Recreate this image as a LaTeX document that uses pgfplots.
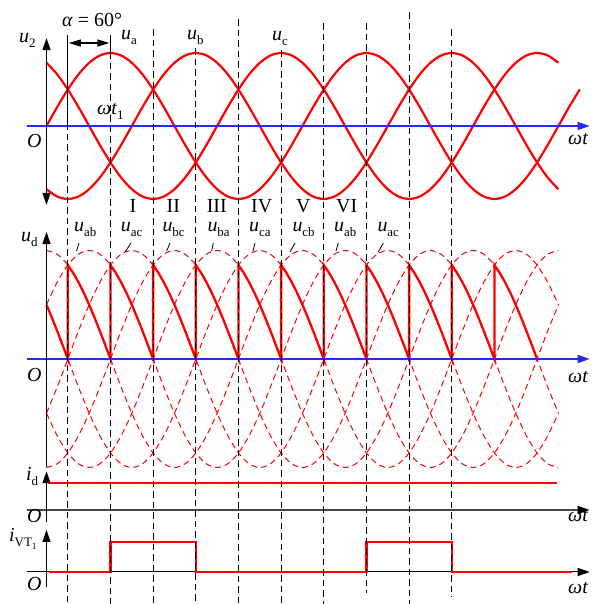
\documentclass[border=0pt]{standalone}
\usepackage{fontspec}
\setmainfont{Liberation Serif}
\usepackage{pgfplots}
\usepackage{pgfplotstable}
\pgfplotsset{compat=1.18}
\usetikzlibrary{arrows.meta}

\definecolor{wred}{RGB}{255,0,0}
\definecolor{wblue}{RGB}{40,40,255}
\definecolor{axgray}{RGB}{70,70,70}

% phase voltages (amplitude 1) and line voltages (amplitude 1), every 15 degrees
\pgfplotstableread{
t ua ub uc uab uac ubc uba uca ucb
0 0 -0.866 0.866 0.5 -0.5 -1 -0.5 0.5 1
15 0.259 -0.966 0.707 0.707 -0.259 -0.966 -0.707 0.259 0.966
30 0.5 -1 0.5 0.866 0 -0.866 -0.866 0 0.866
45 0.707 -0.966 0.259 0.966 0.259 -0.707 -0.966 -0.259 0.707
60 0.866 -0.866 0 1 0.5 -0.5 -1 -0.5 0.5
75 0.966 -0.707 -0.259 0.966 0.707 -0.259 -0.966 -0.707 0.259
90 1 -0.5 -0.5 0.866 0.866 0 -0.866 -0.866 0
105 0.966 -0.259 -0.707 0.707 0.966 0.259 -0.707 -0.966 -0.259
120 0.866 0 -0.866 0.5 1 0.5 -0.5 -1 -0.5
135 0.707 0.259 -0.966 0.259 0.966 0.707 -0.259 -0.966 -0.707
150 0.5 0.5 -1 0 0.866 0.866 0 -0.866 -0.866
165 0.259 0.707 -0.966 -0.259 0.707 0.966 0.259 -0.707 -0.966
180 0 0.866 -0.866 -0.5 0.5 1 0.5 -0.5 -1
195 -0.259 0.966 -0.707 -0.707 0.259 0.966 0.707 -0.259 -0.966
210 -0.5 1 -0.5 -0.866 0 0.866 0.866 0 -0.866
225 -0.707 0.966 -0.259 -0.966 -0.259 0.707 0.966 0.259 -0.707
240 -0.866 0.866 0 -1 -0.5 0.5 1 0.5 -0.5
255 -0.966 0.707 0.259 -0.966 -0.707 0.259 0.966 0.707 -0.259
270 -1 0.5 0.5 -0.866 -0.866 0 0.866 0.866 0
285 -0.966 0.259 0.707 -0.707 -0.966 -0.259 0.707 0.966 0.259
300 -0.866 0 0.866 -0.5 -1 -0.5 0.5 1 0.5
315 -0.707 -0.259 0.966 -0.259 -0.966 -0.707 0.259 0.966 0.707
330 -0.5 -0.5 1 0 -0.866 -0.866 0 0.866 0.866
345 -0.259 -0.707 0.966 0.259 -0.707 -0.966 -0.259 0.707 0.966
360 0 -0.866 0.866 0.5 -0.5 -1 -0.5 0.5 1
375 0.259 -0.966 0.707 0.707 -0.259 -0.966 -0.707 0.259 0.966
390 0.5 -1 0.5 0.866 0 -0.866 -0.866 0 0.866
405 0.707 -0.966 0.259 0.966 0.259 -0.707 -0.966 -0.259 0.707
420 0.866 -0.866 0 1 0.5 -0.5 -1 -0.5 0.5
435 0.966 -0.707 -0.259 0.966 0.707 -0.259 -0.966 -0.707 0.259
450 1 -0.5 -0.5 0.866 0.866 0 -0.866 -0.866 0
465 0.966 -0.259 -0.707 0.707 0.966 0.259 -0.707 -0.966 -0.259
480 0.866 0 -0.866 0.5 1 0.5 -0.5 -1 -0.5
495 0.707 0.259 -0.966 0.259 0.966 0.707 -0.259 -0.966 -0.707
510 0.5 0.5 -1 0 0.866 0.866 0 -0.866 -0.866
525 0.259 0.707 -0.966 -0.259 0.707 0.966 0.259 -0.707 -0.966
540 0 0.866 -0.866 -0.5 0.5 1 0.5 -0.5 -1
555 -0.259 0.966 -0.707 -0.707 0.259 0.966 0.707 -0.259 -0.966
570 -0.5 1 -0.5 -0.866 0 0.866 0.866 0 -0.866
585 -0.707 0.966 -0.259 -0.966 -0.259 0.707 0.966 0.259 -0.707
600 -0.866 0.866 0 -1 -0.5 0.5 1 0.5 -0.5
615 -0.966 0.707 0.259 -0.966 -0.707 0.259 0.966 0.707 -0.259
630 -1 0.5 0.5 -0.866 -0.866 0 0.866 0.866 0
645 -0.966 0.259 0.707 -0.707 -0.966 -0.259 0.707 0.966 0.259
660 -0.866 0 0.866 -0.5 -1 -0.5 0.5 1 0.5
675 -0.707 -0.259 0.966 -0.259 -0.966 -0.707 0.259 0.966 0.707
690 -0.5 -0.5 1 0 -0.866 -0.866 0 0.866 0.866
705 -0.259 -0.707 0.966 0.259 -0.707 -0.966 -0.259 0.707 0.966
720 0 -0.866 0.866 0.5 -0.5 -1 -0.5 0.5 1
735 0.259 -0.966 0.707 0.707 -0.259 -0.966 -0.707 0.259 0.966
750 0.5 -1 0.5 0.866 0 -0.866 -0.866 0 0.866
}\volt

\pgfplotsset{
  panel/.style={hide axis, x=0.711bp, xmin=-65.4, xmax=767,
    enlargelimits=false, clip=false, anchor=south west},
  sine/.style={wred, line width=2.2bp, smooth},
  lv/.style={wred, line width=1bp, dash pattern=on 6bp off 4bp, smooth,
    restrict x to domain=0:720},
  guide/.style={black, line width=1.1bp, dash pattern=on 6.5bp off 4bp},
}
\tikzset{
  tip/.tip={Triangle[length=12bp,width=8bp]},
  lbl/.style={anchor=base west, inner sep=0pt, font=\fontsize{20}{20}\selectfont},
  rom/.style={anchor=base, inner sep=0pt, font=\fontsize{20}{20}\selectfont},
}
\newcommand{\sub}[1]{\raisebox{-0.45ex}{\fontsize{13}{13}\selectfont #1}}

\begin{document}
\begin{tikzpicture}
\useasboundingbox (0,0) rectangle (592bp,604bp);

% u2: phase voltages
\begin{axis}[panel, y=73bp, ymin=-1.2, ymax=1.2, at={(0,390.4bp)}]
\addplot[sine] table[x=t, y=ua] {\volt};
\addplot[sine, restrict x to domain=0:720] table[x=t, y=ub] {\volt};
\addplot[sine, restrict x to domain=0:720] table[x=t, y=uc] {\volt};
\addplot[wblue, line width=1.5bp, -tip] coordinates {(-27.4,0) (764,0)};
\addplot[black, line width=1.2bp, tip-tip] coordinates {(0,-1.082) (0,1.205)};
\end{axis}

% ud: line voltages and output voltage
\begin{axis}[panel, y=108.5bp, ymin=-1.1, ymax=1.1, at={(0,125.65bp)}]
\addplot[lv] table[x=t, y=uab] {\volt};
\addplot[lv] table[x=t, y=uac] {\volt};
\addplot[lv] table[x=t, y=ubc] {\volt};
\addplot[lv] table[x=t, y=uba] {\volt};
\addplot[lv] table[x=t, y=uca] {\volt};
\addplot[lv] table[x=t, y=ucb] {\volt};
\addplot[wred, line width=2.3bp, line join=miter] coordinates {
(0,0.5) (7.5,0.383) (15,0.259) (22.5,0.131) (30,0)
(30,0.866) (37.5,0.793) (45,0.707) (52.5,0.609) (60,0.5) (67.5,0.383) (75,0.259) (82.5,0.131) (90,0)
(90,0.866) (97.5,0.793) (105,0.707) (112.5,0.609) (120,0.5) (127.5,0.383) (135,0.259) (142.5,0.131) (150,0)
(150,0.866) (157.5,0.793) (165,0.707) (172.5,0.609) (180,0.5) (187.5,0.383) (195,0.259) (202.5,0.131) (210,0)
(210,0.866) (217.5,0.793) (225,0.707) (232.5,0.609) (240,0.5) (247.5,0.383) (255,0.259) (262.5,0.131) (270,0)
(270,0.866) (277.5,0.793) (285,0.707) (292.5,0.609) (300,0.5) (307.5,0.383) (315,0.259) (322.5,0.131) (330,0)
(330,0.866) (337.5,0.793) (345,0.707) (352.5,0.609) (360,0.5) (367.5,0.383) (375,0.259) (382.5,0.131) (390,0)
(390,0.866) (397.5,0.793) (405,0.707) (412.5,0.609) (420,0.5) (427.5,0.383) (435,0.259) (442.5,0.131) (450,0)
(450,0.866) (457.5,0.793) (465,0.707) (472.5,0.609) (480,0.5) (487.5,0.383) (495,0.259) (502.5,0.131) (510,0)
(510,0.866) (517.5,0.793) (525,0.707) (532.5,0.609) (540,0.5) (547.5,0.383) (555,0.259) (562.5,0.131) (570,0)
(570,0.866) (577.5,0.793) (585,0.707) (592.5,0.609) (600,0.5) (607.5,0.383) (615,0.259) (622.5,0.131) (630,0)
(630,0.866) (637.5,0.793) (645,0.707) (652.5,0.609) (660,0.5) (667.5,0.383) (675,0.259) (682.5,0.131) (690,0)
};
\addplot[wblue, line width=1.5bp, -tip] coordinates {(-27.4,0) (764,0)};
\addplot[black, line width=1.2bp, -tip] coordinates {(0,-0.995) (0,1.17)};
\end{axis}

% id
\begin{axis}[panel, y=27.3bp, ymin=-0.5, ymax=1.5, at={(0,80.35bp)}]
\addplot[axgray, line width=1.4bp, -{Triangle[length=12bp,width=8bp,color=black]}] coordinates {(-27.4,0) (764,0)};
\addplot[wred, line width=2.3bp] coordinates {(2,1) (718,1)};
\addplot[black, line width=1.2bp, -tip] coordinates {(0,-0.44) (0,1.42)};
\end{axis}

% iVT1
\begin{axis}[panel, y=30bp, ymin=-1, ymax=1.5, at={(0,2bp)}]
\addplot[black, line width=1bp, -tip] coordinates {(-27.4,0) (764,0)};
\addplot[wred, line width=2.3bp] coordinates {
(3,0) (90,0) (90,1) (210,1) (210,0) (450,0) (450,1) (570,1) (570,0) (739,0)};
\addplot[black, line width=1.2bp, -tip] coordinates {(0,-0.5) (0,1.4)};
\end{axis}

% guide lines, in pixel rows of the whole figure
\begin{axis}[panel, y=1bp, ymin=0, ymax=604, y dir=reverse, at={(0,0)}]
\addplot[black, line width=1.1bp] coordinates {(30,35) (30,123)};
\addplot[guide] coordinates {(30,123) (30,604)};
\addplot[black, line width=1.1bp] coordinates {(90,35) (90,52)};
\addplot[guide] coordinates {(90,52) (90,604)};
\addplot[guide] coordinates {(150,29) (150,604)};
\addplot[guide] coordinates {(210,48) (210,604)};
\addplot[guide] coordinates {(270,19) (270,604)};
\addplot[guide] coordinates {(330,50) (330,604)};
\addplot[guide] coordinates {(390,23) (390,604)};
\addplot[guide] coordinates {(450,23) (450,593)};
\addplot[guide] coordinates {(510,12) (510,604)};
\addplot[guide] coordinates {(570,29) (570,597)};
\addplot[black, line width=1.1bp,
  {Triangle[length=12bp,width=7bp]}-{Triangle[length=12bp,width=7bp]}]
  coordinates {(31.5,43) (88.5,43)};
\end{axis}

% labels
\node[lbl] at (62bp,577bp) {\textit{α} = 60°};
\node[lbl] at (19bp,561bp) {\textit{u}\sub{2}};
\node[lbl] at (121bp,564bp) {\textit{u}\sub{a}};
\node[lbl] at (187bp,564bp) {\textit{u}\sub{b}};
\node[lbl] at (272bp,563bp) {\textit{u}\sub{c}};
\node[lbl] at (97bp,489bp) {\textit{ωt}\sub{1}};
\node[lbl] at (27bp,456bp) {\textit{O}};
\node[lbl] at (568bp,459bp) {\textit{ωt}};

\node[rom] at (133bp,391bp) {I};
\node[rom] at (173.3bp,391bp) {II};
\node[rom] at (216.7bp,391bp) {III};
\node[rom] at (261.7bp,391bp) {IV};
\node[rom] at (303.3bp,391bp) {V};
\node[rom] at (346.7bp,391bp) {VI};

\node[lbl] at (21bp,362bp) {\textit{u}\sub{d}};
\node[lbl] at (74bp,372bp) {\textit{u}\sub{ab}};
\node[lbl] at (120.7bp,372bp) {\textit{u}\sub{ac}};
\node[lbl] at (162.3bp,372bp) {\textit{u}\sub{bc}};
\node[lbl] at (207.3bp,372bp) {\textit{u}\sub{ba}};
\node[lbl] at (249bp,372bp) {\textit{u}\sub{ca}};
\node[lbl] at (292.3bp,372bp) {\textit{u}\sub{cb}};
\node[lbl] at (334bp,372bp) {\textit{u}\sub{ab}};
\node[lbl] at (377.3bp,372bp) {\textit{u}\sub{ac}};
\draw[line width=0.8bp] (76.5bp,353bp) -- (79bp,361bp);
\draw[line width=0.8bp] (125bp,352bp) -- (131bp,361bp);
\draw[line width=0.8bp] (166.7bp,353bp) -- (170bp,361bp);
\draw[line width=0.8bp] (211.7bp,353bp) -- (213.3bp,361bp);
\draw[line width=0.8bp] (253bp,353bp) -- (255bp,361bp);
\draw[line width=0.8bp] (290bp,352bp) -- (295bp,361bp);
\draw[line width=0.8bp] (336bp,353bp) -- (338.3bp,361bp);
\draw[line width=0.8bp] (378.3bp,352bp) -- (383.3bp,361bp);
\node[lbl] at (27bp,222bp) {\textit{O}};
\node[lbl] at (568bp,221bp) {\textit{ωt}};

\node[lbl] at (26bp,123bp) {\textit{i}\sub{d}};
\node[lbl] at (27bp,81bp) {\textit{O}};
\node[lbl] at (568bp,82bp) {\textit{ωt}};
\node[lbl] at (9bp,62bp) {\textit{i}\raisebox{-0.45ex}{\fontsize{13}{13}\selectfont VT\raisebox{-0.5ex}{\fontsize{9.5}{9.5}\selectfont 1}}};
\node[lbl] at (27bp,14bp) {\textit{O}};
\node[lbl] at (568bp,11bp) {\textit{ωt}};
\end{tikzpicture}
\end{document}
